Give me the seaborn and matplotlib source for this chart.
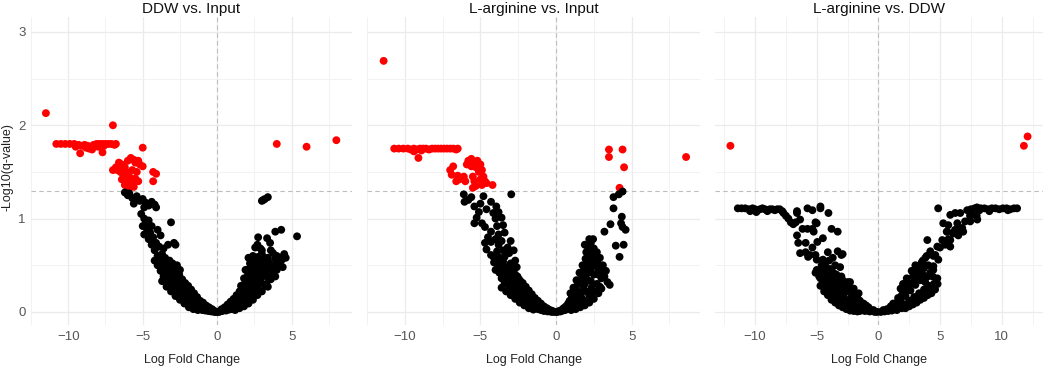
import pandas as pd
import matplotlib
matplotlib.use("Agg")
import matplotlib.pyplot as plt
import seaborn as sns

# panel titles
titles = ["DDW vs. Input", "L-arginine vs. Input", "L-arginine vs. DDW"]

# (log fold change, -log10 q)
ddw_input = [
    # significant
    (-11.5, 2.13), (-7.0, 2.00), (-5.0, 1.76),
    (-10.8, 1.80), (-10.5, 1.80), (-10.2, 1.80), (-9.9, 1.80), (-9.6, 1.80), (-9.3, 1.79),
    (-9.1, 1.78), (-8.9, 1.79), (-8.7, 1.78), (-8.5, 1.77), (-8.3, 1.79), (-8.1, 1.80),
    (-7.9, 1.80), (-7.7, 1.80), (-7.5, 1.80), (-7.3, 1.80), (-7.1, 1.80), (-6.9, 1.79),
    (-6.8, 1.80), (-8.8, 1.76), (-8.4, 1.74), (-8.0, 1.77), (-7.6, 1.78), (-9.2, 1.70),
    (-7.7, 1.71), (-8.6, 1.75), (-9.5, 1.77),
    (-7.0, 1.52), (-6.8, 1.55), (-6.6, 1.60), (-6.4, 1.58), (-6.2, 1.55), (-6.0, 1.62),
    (-5.8, 1.65), (-5.6, 1.63), (-5.5, 1.60), (-5.3, 1.62), (-5.2, 1.58), (-6.5, 1.50),
    (-6.3, 1.47), (-6.1, 1.50), (-5.9, 1.45), (-5.7, 1.52), (-5.4, 1.50), (-5.0, 1.56),
    (-4.3, 1.50), (-4.1, 1.48), (-4.3, 1.40), (-6.0, 1.40), (-5.7, 1.38), (-5.5, 1.43),
    (-6.2, 1.36), (-5.9, 1.33), (-5.6, 1.34), (-6.4, 1.42), (-5.3, 1.40), (-6.7, 1.52),
    (4.0, 1.80), (6.0, 1.77), (8.0, 1.84),
    # left arm
    (-6.2, 1.28), (-6.0, 1.25), (-5.9, 1.27), (-5.7, 1.22), (-5.5, 1.20), (-5.4, 1.24),
    (-5.2, 1.19), (-5.0, 1.21), (-4.8, 1.17), (-4.6, 1.14), (-4.4, 1.18), (-4.2, 1.15),
    (-4.1, 1.12), (-5.6, 1.16), (-4.9, 1.12),
    (-5.1, 1.05), (-4.9, 1.00), (-4.8, 0.95), (-5.0, 0.92), (-4.6, 0.98), (-4.4, 0.92),
    (-4.7, 0.88), (-4.5, 0.85), (-4.9, 0.83), (-4.3, 0.80), (-4.6, 0.78), (-3.1, 0.96),
    (-4.0, 0.88), (-3.8, 0.82), (-4.1, 0.74), (-4.4, 0.72), (-3.9, 0.70), (-3.6, 0.68),
    (-3.3, 0.72), (-2.9, 0.74), (-2.8, 0.72), (-3.7, 0.62), (-4.2, 0.66), (-4.0, 0.60),
    (-3.5, 0.58), (-3.8, 0.55), (-3.2, 0.55), (-3.0, 0.52), (-3.4, 0.50), (-2.7, 0.50),
    (-3.6, 0.47), (-3.1, 0.45), (-2.5, 0.45), (-2.8, 0.42), (-3.3, 0.40),
    (-3.9, 0.52), (-3.8, 0.44), (-3.7, 0.49), (-3.6, 0.38), (-3.55, 0.45), (-3.45, 0.33),
    (-3.4, 0.41), (-3.3, 0.47), (-3.25, 0.30), (-3.2, 0.37), (-3.1, 0.43), (-3.05, 0.26),
    (-3.0, 0.33), (-2.95, 0.39), (-2.9, 0.22), (-2.85, 0.29), (-2.8, 0.36), (-2.7, 0.20),
    (-2.65, 0.27), (-2.6, 0.33), (-2.55, 0.17), (-2.5, 0.24), (-2.45, 0.30), (-2.4, 0.14),
    (-2.35, 0.21), (-2.3, 0.27), (-2.2, 0.12), (-2.15, 0.18), (-2.1, 0.25), (-2.05, 0.10),
    (-2.0, 0.15), (-1.95, 0.22), (-1.9, 0.08), (-1.85, 0.13), (-1.8, 0.19), (-1.7, 0.07),
    (-1.65, 0.11), (-1.6, 0.16), (-1.55, 0.05), (-1.5, 0.09), (-1.45, 0.13), (-1.4, 0.04),
    (-1.35, 0.07), (-1.3, 0.11), (-1.2, 0.03), (-1.15, 0.06), (-1.1, 0.09), (-1.0, 0.02),
    (-0.95, 0.045), (-0.9, 0.07), (-0.8, 0.015), (-0.75, 0.035), (-0.7, 0.05), (-0.6, 0.01),
    (-0.55, 0.025), (-0.5, 0.035), (-0.4, 0.005), (-0.35, 0.015), (-0.3, 0.02), (-0.2, 0.0),
    (-0.15, 0.008), (-0.1, 0.0), (0.0, 0.0),
    (-3.95, 0.58), (-3.75, 0.56), (-3.5, 0.52), (-3.35, 0.55), (-3.15, 0.50), (-2.95, 0.47),
    (-2.75, 0.44), (-2.55, 0.40), (-2.35, 0.35), (-2.15, 0.31), (-1.95, 0.28), (-1.75, 0.24),
    (-1.55, 0.20), (-1.35, 0.16), (-1.15, 0.12), (-0.95, 0.10), (-0.75, 0.07), (-0.55, 0.05),
    (-0.35, 0.03), (-4.2, 0.55), (-4.0, 0.50), (-3.7, 0.33), (-3.4, 0.27), (-3.1, 0.22),
    (-2.8, 0.17), (-2.5, 0.13), (-2.2, 0.09), (-1.9, 0.05), (-1.6, 0.03), (-1.3, 0.02),
    # right arm
    (0.1, 0.0), (0.2, 0.005), (0.25, 0.015), (0.35, 0.01), (0.4, 0.025), (0.5, 0.02),
    (0.55, 0.04), (0.6, 0.015), (0.7, 0.035), (0.75, 0.06), (0.8, 0.025), (0.9, 0.05),
    (0.95, 0.08), (1.0, 0.03), (1.1, 0.07), (1.15, 0.11), (1.2, 0.045), (1.3, 0.09),
    (1.35, 0.14), (1.4, 0.06), (1.5, 0.12), (1.55, 0.18), (1.6, 0.08), (1.7, 0.15),
    (1.75, 0.22), (1.8, 0.10), (1.9, 0.19), (1.95, 0.27), (2.0, 0.13), (2.1, 0.23),
    (2.15, 0.32), (2.2, 0.16), (2.3, 0.28), (2.35, 0.37), (2.4, 0.20), (2.5, 0.33),
    (2.55, 0.42), (2.6, 0.25), (2.7, 0.38), (2.75, 0.30), (2.85, 0.45), (2.9, 0.34),
    (3.0, 0.40), (3.1, 0.48), (1.85, 0.30), (2.05, 0.38), (2.25, 0.44), (2.45, 0.50),
    (2.65, 0.53), (2.2, 0.52), (2.4, 0.60), (3.3, 0.38), (3.5, 0.46), (3.6, 0.35),
    (3.8, 0.50), (4.1, 0.52), (4.4, 0.48),
    (1.6, 0.28), (1.8, 0.36), (2.0, 0.45), (2.3, 0.40), (2.6, 0.46), (2.8, 0.55),
    (3.0, 0.62), (3.2, 0.50), (3.4, 0.58), (2.9, 0.68), (3.6, 0.66), (3.3, 0.30),
    (3.7, 0.42), (3.9, 0.57), (4.0, 0.45), (4.3, 0.55), (4.6, 0.58), (4.5, 0.62),
    (3.0, 1.19), (3.2, 1.21), (3.4, 1.23), (3.1, 1.20), (5.36, 0.81), (3.9, 0.86),
    (4.3, 0.88), (2.75, 0.80), (3.35, 0.79), (3.55, 0.74), (2.55, 0.69), (3.0, 0.66),
    (3.75, 0.63), (4.4, 0.59), (2.1, 0.58), (2.75, 0.59), (3.4, 0.56), (4.0, 0.60),
    (4.35, 0.57), (1.9, 0.45), (2.55, 0.47), (3.2, 0.42), (3.9, 0.38), (3.4, 0.27),
    (2.75, 0.24), (2.1, 0.34),
    (0.3, 0.03), (0.5, 0.05), (0.7, 0.08), (0.9, 0.11), (1.1, 0.14), (1.3, 0.18),
    (1.5, 0.22), (1.7, 0.28), (1.9, 0.34), (2.1, 0.41), (2.3, 0.48), (2.5, 0.56),
    (1.2, 0.02), (1.5, 0.04), (1.8, 0.06), (2.1, 0.09), (2.4, 0.13), (2.7, 0.18),
    (3.0, 0.22), (3.2, 0.28), (2.95, 0.52), (3.15, 0.58), (3.5, 0.52), (2.7, 0.72),
]

larg_input = [
    # significant
    (-11.4, 2.69),
    (-10.7, 1.75), (-10.4, 1.75), (-10.1, 1.75), (-9.8, 1.75), (-9.6, 1.74), (-9.4, 1.75),
    (-9.2, 1.74), (-9.0, 1.75), (-8.8, 1.75), (-8.6, 1.75), (-8.4, 1.74), (-8.2, 1.75),
    (-8.0, 1.75), (-7.8, 1.75), (-7.6, 1.75), (-7.4, 1.75), (-7.2, 1.75), (-7.0, 1.75),
    (-6.8, 1.75), (-6.6, 1.74), (-6.5, 1.75), (-9.4, 1.72), (-9.1, 1.65), (-8.9, 1.73),
    (-5.8, 1.62), (-5.6, 1.64), (-5.4, 1.60), (-5.2, 1.62), (-5.0, 1.58), (-5.3, 1.55),
    (-5.6, 1.56), (-5.9, 1.58), (-5.1, 1.50), (-4.9, 1.52), (-4.8, 1.45), (-4.7, 1.40),
    (-5.0, 1.42), (-4.9, 1.36), (-4.6, 1.38), (-4.2, 1.36), (-5.5, 1.45), (-5.4, 1.40),
    (-5.5, 1.33), (-6.0, 1.40), (-6.2, 1.43), (-6.4, 1.42), (-6.6, 1.40), (-6.9, 1.47),
    (-7.0, 1.52), (-6.8, 1.56), (-6.5, 1.46), (-6.1, 1.45), (-5.3, 1.35),
    (3.5, 1.74), (4.4, 1.74), (3.5, 1.66), (4.5, 1.55), (4.2, 1.33), (8.6, 1.66),
    # left arm
    (-6.1, 1.26), (-5.6, 1.23), (-4.8, 1.24), (-2.96, 1.26), (-6.05, 1.18), (-4.3, 1.18),
    (-3.95, 1.13), (-4.15, 1.06), (-5.4, 1.13), (-5.1, 1.07), (-5.25, 1.01), (-5.4, 0.95),
    (-4.9, 0.95), (-3.8, 1.07), (-3.6, 1.01), (-3.5, 0.93), (-4.7, 0.91), (-4.3, 0.86),
    (-3.8, 0.83), (-3.4, 0.85), (-4.7, 0.74), (-4.3, 0.75), (-3.8, 0.72), (-3.2, 0.69),
    (-2.8, 0.66), (-4.3, 0.61), (-3.8, 0.59), (-3.4, 0.59), (-3.1, 0.63), (-4.1, 0.53),
    (-3.6, 0.47), (-3.2, 0.42), (-2.8, 0.45),
    (-5.8, 1.20), (-5.0, 1.16), (-4.6, 1.10), (-4.0, 1.00), (-3.9, 0.92), (-4.5, 0.80),
    (-4.0, 0.78), (-3.6, 0.76), (-3.0, 0.76), (-4.6, 0.67), (-3.5, 0.66), (-3.9, 0.65),
    (-2.7, 0.55), (-3.0, 0.52), (-3.5, 0.54), (-4.0, 0.45), (-2.6, 0.48),
    (-3.85, 0.50), (-3.75, 0.42), (-3.6, 0.36), (-3.5, 0.44), (-3.4, 0.31), (-3.35, 0.39),
    (-3.2, 0.34), (-3.1, 0.27), (-3.05, 0.37), (-2.95, 0.30), (-2.9, 0.23), (-2.8, 0.33),
    (-2.75, 0.27), (-2.65, 0.19), (-2.6, 0.30), (-2.5, 0.23), (-2.45, 0.16), (-2.4, 0.27),
    (-2.3, 0.20), (-2.25, 0.13), (-2.15, 0.24), (-2.1, 0.17), (-2.0, 0.11), (-1.95, 0.20),
    (-1.9, 0.14), (-1.8, 0.08), (-1.75, 0.17), (-1.7, 0.11), (-1.6, 0.06), (-1.55, 0.14),
    (-1.5, 0.09), (-1.4, 0.045), (-1.35, 0.11), (-1.3, 0.07), (-1.2, 0.03), (-1.15, 0.08),
    (-1.1, 0.05), (-1.0, 0.02), (-0.95, 0.06), (-0.85, 0.035), (-0.8, 0.01), (-0.7, 0.04),
    (-0.65, 0.02), (-0.55, 0.005), (-0.5, 0.025), (-0.4, 0.01), (-0.3, 0.0), (-0.25, 0.012),
    (-0.15, 0.0), (0.0, 0.0), (-2.55, 0.38), (-2.35, 0.33), (-2.9, 0.40), (-2.2, 0.29),
    (-4.1, 0.58), (-3.9, 0.56), (-3.7, 0.53), (-3.3, 0.48), (-3.0, 0.45), (-2.7, 0.40),
    (-2.45, 0.35), (-2.2, 0.31), (-2.0, 0.27), (-1.8, 0.23), (-1.6, 0.19), (-1.4, 0.15),
    (-1.2, 0.12), (-1.0, 0.09), (-0.8, 0.06), (-0.6, 0.04), (-0.4, 0.02), (-3.6, 0.26),
    (-3.3, 0.22), (-3.0, 0.18), (-2.7, 0.14), (-2.4, 0.10), (-2.1, 0.07), (-1.8, 0.04),
    (-1.5, 0.025),
    # right arm
    (0.1, 0.0), (0.2, 0.01), (0.3, 0.005), (0.35, 0.02), (0.45, 0.015), (0.5, 0.04),
    (0.6, 0.02), (0.65, 0.06), (0.7, 0.03), (0.8, 0.09), (0.85, 0.04), (0.9, 0.12),
    (1.0, 0.06), (1.05, 0.16), (1.1, 0.08), (1.2, 0.20), (1.25, 0.10), (1.3, 0.25),
    (1.4, 0.13), (1.45, 0.30), (1.5, 0.17), (1.6, 0.35), (1.65, 0.21), (1.7, 0.40),
    (1.8, 0.25), (1.85, 0.46), (1.9, 0.30), (2.0, 0.36), (2.05, 0.52), (2.1, 0.42),
    (2.2, 0.48), (2.25, 0.60), (2.3, 0.33), (2.4, 0.55), (2.5, 0.40), (2.6, 0.50),
    (2.7, 0.30), (2.8, 0.40), (2.9, 0.50), (3.0, 0.25), (3.2, 0.38), (1.35, 0.05),
    (1.6, 0.08), (1.9, 0.12), (2.2, 0.18), (2.5, 0.22), (2.8, 0.20), (1.7, 0.15),
    (2.0, 0.22), (2.35, 0.26),
    (1.9, 0.72), (2.1, 0.70), (2.3, 0.74), (2.5, 0.68), (2.0, 0.64), (2.4, 0.62),
    (2.7, 0.64), (2.2, 0.58), (2.6, 0.55), (2.9, 0.58), (3.1, 0.50), (2.8, 0.46),
    (3.3, 0.44), (3.0, 0.36), (3.4, 0.32), (2.9, 0.27), (3.55, 0.29),
    (3.8, 1.23), (4.15, 1.26), (4.4, 1.29), (3.8, 1.11), (4.35, 1.02), (4.4, 0.91),
    (4.6, 0.88), (3.6, 0.94), (3.2, 0.86), (3.95, 0.71), (4.47, 0.72), (4.2, 0.59),
    (4.3, 0.95),
    (1.0, 0.02), (1.3, 0.03), (1.6, 0.05), (1.9, 0.07), (2.2, 0.10), (2.5, 0.14),
    (2.7, 0.22), (0.95, 0.20), (1.15, 0.26), (1.35, 0.34), (1.55, 0.42), (1.75, 0.50),
    (1.95, 0.57), (2.15, 0.65), (2.3, 0.45), (2.55, 0.60), (2.75, 0.52), (3.1, 0.44),
    (2.45, 0.78), (2.2, 0.78),
]

larg_ddw = [
    # significant
    (-12.0, 1.78), (11.8, 1.78), (12.1, 1.88),
    # left plateau
    (-11.4, 1.11), (-11.1, 1.11), (-10.8, 1.11), (-10.5, 1.10), (-10.2, 1.11), (-10.0, 1.10),
    (-9.8, 1.09), (-9.6, 1.10), (-9.4, 1.11), (-9.2, 1.10), (-9.0, 1.09), (-8.8, 1.10),
    (-8.6, 1.10), (-8.4, 1.09), (-8.2, 1.10), (-8.0, 1.10), (-10.4, 1.08), (-9.9, 1.07),
    (-9.0, 1.08), (-7.8, 1.08),
    (-7.7, 1.06), (-7.5, 1.03), (-7.3, 1.00), (-7.1, 0.96), (-6.9, 0.94), (-6.6, 1.06),
    (-6.7, 0.96),
    # left scatter
    (-5.75, 1.11), (-5.35, 1.09), (-4.7, 1.11), (-4.05, 1.06), (-5.0, 0.95), (-6.15, 0.89),
    (-5.75, 0.89), (-5.35, 0.89), (-5.25, 0.86), (-3.8, 0.89), (-3.3, 0.86), (-6.6, 0.82),
    (-4.5, 0.79), (-6.5, 0.74), (-5.9, 0.74), (-4.95, 0.75), (-5.35, 0.69), (-5.9, 0.64),
    (-5.7, 0.59), (-5.1, 0.61), (-4.1, 0.64), (-3.3, 0.65), (-2.9, 0.62), (-4.5, 0.56),
    (-3.7, 0.58), (-5.1, 0.42), (-4.7, 0.36), (-4.1, 0.34), (-3.7, 0.40), (-3.1, 0.48),
    (-2.3, 0.32), (-3.3, 0.27), (-2.8, 0.24), (-6.35, 0.99), (-5.1, 0.96), (-6.35, 0.63),
    (-5.55, 0.61), (-5.0, 0.56), (-3.0, 0.61), (-4.3, 0.49), (-3.65, 0.42), (-3.1, 0.29),
    (-4.7, 1.13), (-6.6, 1.08), (-4.4, 0.52), (-3.9, 0.46), (-4.0, 0.55), (-3.5, 0.50),
    # left band
    (-5.0, 0.45), (-4.8, 0.38), (-4.6, 0.42), (-4.5, 0.32), (-4.3, 0.37), (-4.2, 0.27),
    (-4.0, 0.32), (-3.9, 0.22), (-3.7, 0.28), (-3.6, 0.18), (-3.4, 0.24), (-3.3, 0.14),
    (-3.1, 0.20), (-3.0, 0.10), (-2.8, 0.16), (-2.7, 0.07), (-2.5, 0.12), (-2.4, 0.05),
    (-2.2, 0.09), (-2.1, 0.03), (-1.9, 0.06), (-1.8, 0.02), (-1.6, 0.04), (-1.5, 0.01),
    (-1.3, 0.025), (-1.1, 0.01), (-0.9, 0.015), (-0.7, 0.005), (-0.5, 0.01), (-0.3, 0.0),
    (-0.1, 0.0), (-3.5, 0.33), (-3.0, 0.28), (-2.6, 0.22), (-2.2, 0.16), (-1.8, 0.11),
    (-1.4, 0.07), (-1.0, 0.04), (-0.6, 0.02), (-4.0, 0.40), (-3.8, 0.35), (-2.0, 0.13),
    (-4.6, 0.50), (-4.4, 0.46), (-4.2, 0.44), (-3.9, 0.42), (-3.7, 0.38), (-3.4, 0.40),
    (-3.2, 0.36), (-2.9, 0.34), (-2.7, 0.30), (-2.4, 0.26), (-2.2, 0.22), (-1.9, 0.18),
    (-1.7, 0.15), (-1.5, 0.12), (-1.2, 0.09), (-1.0, 0.07), (-0.8, 0.05), (-0.4, 0.02),
    (-4.4, 0.22), (-4.1, 0.18), (-3.8, 0.13), (-3.5, 0.10), (-3.2, 0.07), (-2.9, 0.05),
    (-2.6, 0.03), (-2.3, 0.015), (-2.0, 0.01), (-1.7, 0.005), (-4.7, 0.28), (-3.0, 0.38),
    (-2.5, 0.32), (-2.0, 0.25), (-1.6, 0.20),
    # right plateau
    (7.5, 1.10), (7.8, 1.11), (8.0, 1.12), (8.3, 1.11), (8.6, 1.11), (8.9, 1.10),
    (9.2, 1.11), (9.5, 1.11), (9.8, 1.10), (10.1, 1.11), (10.4, 1.11), (10.7, 1.10),
    (11.0, 1.11), (11.25, 1.11), (8.2, 1.09), (9.0, 1.08), (10.5, 1.09), (4.85, 1.11),
    (7.2, 1.09),
    # right scatter
    (5.83, 1.04), (6.23, 1.06), (6.64, 1.06), (7.61, 1.04), (8.02, 0.99), (7.45, 0.97),
    (5.26, 0.95), (5.67, 0.93), (6.4, 0.95), (6.8, 0.90), (6.88, 0.86), (6.07, 0.84),
    (6.48, 0.82), (5.59, 0.86), (5.83, 0.77), (3.97, 0.77), (5.18, 0.77), (5.43, 0.72),
    (5.83, 0.70), (4.78, 0.70), (4.21, 0.65), (4.62, 0.61), (4.86, 0.56), (3.81, 0.58),
    (4.05, 0.50), (3.16, 0.48), (3.4, 0.43), (4.45, 0.45), (4.78, 0.36), (4.21, 0.27),
    (3.64, 0.34), (5.54, 0.86), (6.08, 0.85), (5.0, 0.69), (4.46, 0.60), (3.92, 0.60),
    (3.51, 0.53), (4.46, 0.49), (5.68, 0.78), (6.22, 0.88), (7.03, 0.97), (7.43, 1.03),
    (7.97, 1.03), (6.62, 0.88),
    # right band
    (0.2, 0.0), (0.5, 0.005), (0.8, 0.01), (1.1, 0.015), (1.3, 0.03), (1.5, 0.02),
    (1.7, 0.05), (1.9, 0.04), (2.1, 0.08), (2.3, 0.06), (2.5, 0.12), (2.7, 0.09),
    (2.9, 0.16), (3.1, 0.12), (3.3, 0.20), (3.5, 0.16), (3.7, 0.24), (3.9, 0.20),
    (4.1, 0.28), (4.3, 0.24), (4.5, 0.30), (1.0, 0.04), (1.4, 0.07), (1.8, 0.12),
    (2.2, 0.17), (2.6, 0.23), (3.0, 0.29), (3.4, 0.34), (2.0, 0.24), (2.4, 0.30),
    (2.8, 0.38), (2.7, 0.44), (3.2, 0.41), (3.6, 0.40), (4.0, 0.38), (1.6, 0.15),
    (3.8, 0.32),
    (0.4, 0.02), (0.7, 0.03), (1.0, 0.06), (1.2, 0.09), (1.5, 0.10), (1.7, 0.13),
    (1.9, 0.18), (2.2, 0.22), (2.4, 0.26), (2.6, 0.30), (2.9, 0.34), (3.1, 0.38),
    (3.3, 0.45), (3.5, 0.42), (3.7, 0.47), (4.2, 0.42), (4.4, 0.38), (2.2, 0.04),
    (2.5, 0.06), (2.8, 0.08), (3.1, 0.10), (3.4, 0.13), (3.7, 0.15), (4.0, 0.18),
    (4.3, 0.20), (4.6, 0.24), (4.8, 0.30), (2.3, 0.36), (2.0, 0.30), (1.8, 0.25),
    (3.0, 0.50), (3.6, 0.55),
]

cutoff = 1.3  # -log10(0.05)

frames = []
for name, pts in zip(titles, [ddw_input, larg_input, larg_ddw]):
    d = pd.DataFrame(pts, columns=["lfc", "logq"])
    d["comparison"] = name
    frames.append(d)
df = pd.concat(frames, ignore_index=True)
df["sig"] = df["logq"] > cutoff

sns.set_style("white")
plt.rcParams["font.family"] = ["Liberation Sans", "DejaVu Sans"]

W, H = 1045, 367
fig = plt.figure(figsize=(W / 100, H / 100), dpi=100)

# panel pixel edges and x limits (free x scales like facet_wrap)
edges = [(31, 352), (367, 700), (715, 1043)]
xlims = [(-12.45, 9.05), (-12.35, 9.52), (-13.25, 13.35)]
top, bottom = 17, 325

for i, name in enumerate(titles):
    l, r = edges[i]
    ax = fig.add_axes([l / W, 1 - bottom / H, (r - l) / W, (bottom - top) / H])
    sub = df[df["comparison"] == name]
    sns.scatterplot(data=sub, x="lfc", y="logq", hue="sig",
                    palette={True: "#FF0000", False: "black"},
                    s=32, linewidth=0, legend=False, ax=ax, zorder=3)
    ax.axhline(cutoff, color="#BDBDBD", lw=0.8, ls=(0, (4, 3)), zorder=2)
    ax.axvline(0, color="#BDBDBD", lw=0.8, ls=(0, (4, 3)), zorder=2)
    ax.set_xlim(*xlims[i])
    ax.set_ylim(-0.14, 3.16)
    if i < 2:
        ax.set_xticks([-10, -5, 0, 5])
        ax.set_xticks([-12.5, -7.5, -2.5, 2.5, 7.5], minor=True)
    else:
        ax.set_xticks([-10, -5, 0, 5, 10])
        ax.set_xticks([-12.5, -7.5, -2.5, 2.5, 7.5, 12.5], minor=True)
    ax.set_yticks([0, 1, 2, 3])
    ax.set_yticks([0.5, 1.5, 2.5], minor=True)
    ax.grid(which="major", color="#EBEBEB", lw=0.9, zorder=0)
    ax.grid(which="minor", color="#F2F2F2", lw=0.7, zorder=0)
    ax.set_axisbelow(True)
    for sp in ax.spines.values():
        sp.set_visible(False)
    ax.tick_params(which="both", length=0, labelsize=9.5, labelcolor="#555555", pad=4)
    ax.set_xlabel("Log Fold Change", fontsize=9, color="#222222", labelpad=8)
    ax.set_title(name, fontsize=11, color="#111111", pad=3)
    ax.set_ylabel("")
    if i > 0:
        ax.set_yticklabels([])

fig.text(8 / W, 1 - 167 / H, "-Log10(q-value)", rotation=90, fontsize=9,
         color="#222222", ha="center", va="center")

fig.savefig("out.png", dpi=100)
